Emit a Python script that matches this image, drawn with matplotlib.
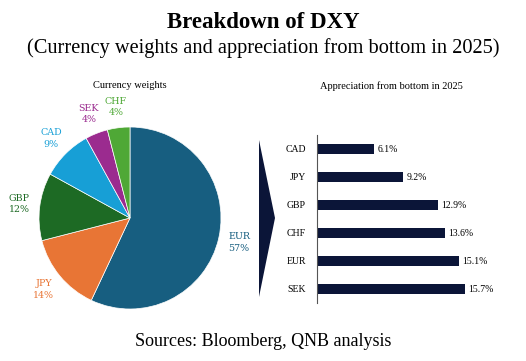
import matplotlib.pyplot as plt
from matplotlib.patches import Polygon

# currency weights in the DXY basket
pie_names   = ['EUR', 'JPY', 'GBP', 'CAD', 'SEK', 'CHF']
pie_weights = [57, 14, 12, 9, 4, 4]
pie_colors  = ['#175e80', '#e87535', '#1d6a24', '#179fd6', '#9b2b8f', '#4fa836']

# appreciation from bottom in 2025 (%)
bar_names  = ['CAD', 'JPY', 'GBP', 'CHF', 'EUR', 'SEK']
bar_values = [6.1, 9.2, 12.9, 13.6, 15.1, 15.7]
bar_color  = '#0b1538'

serif = ['Liberation Serif', 'DejaVu Serif']

fig = plt.figure(figsize=(5.26, 3.61), dpi=100)
fig.patch.set_facecolor('white')

fig.text(0.5, 1 - 23/361, 'Breakdown of DXY', ha='center', va='center',
         fontsize=16.5, fontweight='bold', family=serif)
fig.text(0.5, 1 - 48/361, '(Currency weights and appreciation from bottom in 2025)',
         ha='center', va='center', fontsize=14.7, family=serif)
fig.text(0.5, 1 - 342/361, 'Sources: Bloomberg, QNB analysis', ha='center', va='center',
         fontsize=13, family=serif)

# pie
ax1 = fig.add_axes([39/526, 1 - 309/361, 182/526, 182/361])
labels = ['%s\n%d%%' % (n, w) for n, w in zip(pie_names, pie_weights)]
wedges, texts = ax1.pie(pie_weights, colors=pie_colors, startangle=90, counterclock=False,
                        labels=labels, labeldistance=1.23,
                        textprops=dict(fontsize=6.8, family='DejaVu Serif', linespacing=1.4),
                        wedgeprops=dict(linewidth=0.5, edgecolor='white'))
for t, c in zip(texts, pie_colors):
    t.set_color(c)
    t.set_ha('center')
    t.set_va('center')
ax1.set_xlim(-1, 1)
ax1.set_ylim(-1, 1)
fig.text(130/526, 1 - 85/361, 'Currency weights', ha='center', va='center',
         fontsize=7.5, family=serif)

# bars
ax2 = fig.add_axes([317/526, 1 - 303/361, 188/526, 168/361])
ypos = list(range(len(bar_names)))
ax2.barh(ypos, bar_values, height=0.37, color=bar_color)
for y, v in zip(ypos, bar_values):
    ax2.text(v + 0.35, y, '%.1f%%' % v, ha='left', va='center', fontsize=7, family=serif)
ax2.set_xlim(0, 20)
ax2.set_ylim(5.5, -0.5)
ax2.set_yticks(ypos)
ax2.set_yticklabels(bar_names, family=serif, fontsize=7)
ax2.tick_params(axis='y', length=0, pad=8)
ax2.set_xticks([])
for s in ['top', 'right', 'bottom']:
    ax2.spines[s].set_visible(False)
ax2.spines['left'].set_color('#555555')
ax2.spines['left'].set_linewidth(0.8)
fig.text(391/526, 1 - 86/361, 'Appreciation from bottom in 2025', ha='center', va='center',
         fontsize=7.5, family=serif)

# chevron between the two panels
chev = Polygon([(259/526, 1 - 140/361), (275/526, 1 - 218/361), (259/526, 1 - 297/361)],
               closed=True, transform=fig.transFigure, facecolor=bar_color, edgecolor='none')
fig.patches.append(chev)

plt.savefig('out.png', dpi=100)
